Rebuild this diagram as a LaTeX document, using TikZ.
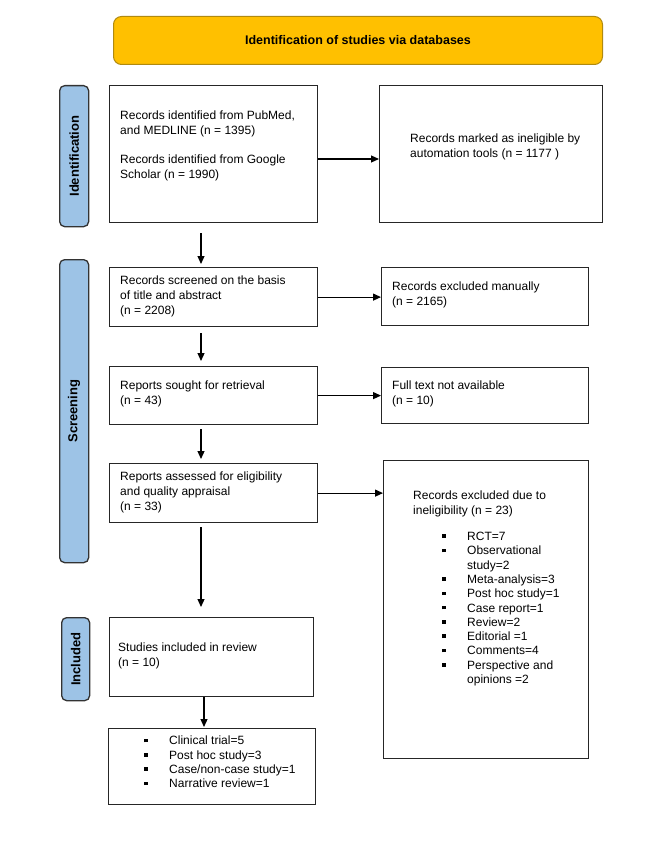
\documentclass[tikz,border=0pt]{standalone}
\usepackage{fontspec}
\setmainfont{Liberation Sans}
\usetikzlibrary{arrows.meta}
\definecolor{gold}{HTML}{FFC000}
\definecolor{goldb}{HTML}{B08A10}
\definecolor{sideblue}{HTML}{9DC3E6}
\newcommand\bsq{\rule[2.6pt]{3.6pt}{3.6pt}}
\newcommand\bitem[1]{\makebox[25pt][l]{\bsq}#1}
\newcommand\bcont[1]{\hspace*{25pt}#1}
\begin{document}
\begin{tikzpicture}[x=1pt,y=-1pt,
 box/.style={draw=black!85, line width=1.2pt, anchor=north west, inner sep=0},
 side/.style={draw=black!80, fill=sideblue, rounded corners=5pt, line width=1.3pt, anchor=north west, inner sep=0},
 sidetxt/.style={rotate=90, font=\bfseries\fontsize{13}{15}\selectfont, inner sep=0},
 txt/.style={anchor=north west, inner sep=0, align=left, font=\fontsize{12}{14.6}\selectfont, execute at begin node={\rule{0pt}{10pt}}},
 lst/.style={anchor=north west, inner sep=0, align=left, font=\fontsize{12}{14.3}\selectfont, execute at begin node={\rule{0pt}{10pt}}},
 arr/.style={-{Triangle[length=8pt,width=7pt]}, line width=1.2pt}]
\useasboundingbox (0,0) rectangle (661,850);
\fill[white] (0,0) rectangle (661,850);
% banner
\node[draw=goldb, fill=gold, rounded corners=8pt, line width=1pt, minimum width=489pt, minimum height=48pt, anchor=north west, inner sep=0, font=\bfseries\fontsize{12.5}{15}\selectfont] (banner) at (113,16) {Identification of studies via databases};
% side labels
\node[side, minimum width=29pt, minimum height=141pt] (idl) at (59,85) {};
\node[sidetxt] (idlt) at (idl.center) {Identification};
\node[side, minimum width=29pt, minimum height=303pt] (scl) at (59,259) {};
\node[sidetxt] (sclt) at (scl.center) {Screening};
\node[side, minimum width=28pt, minimum height=83pt] (incl) at (61,617) {};
\node[sidetxt] (inclt) at (incl.center) {Included};
% boxes
\node[box, minimum width=208pt, minimum height=137pt] (b1) at (109,85) {};
\node[box, minimum width=223pt, minimum height=137pt] (rb1) at (379,85) {};
\node[box, minimum width=208pt, minimum height=59pt] (b2) at (109,267) {};
\node[box, minimum width=207pt, minimum height=58pt] (rb2) at (381,267) {};
\node[box, minimum width=208pt, minimum height=58pt] (b3) at (109,366) {};
\node[box, minimum width=207pt, minimum height=56pt] (rb3) at (381,367) {};
\node[box, minimum width=208pt, minimum height=59pt] (b4) at (109,463) {};
\node[box, minimum width=205pt, minimum height=298pt] (rb4) at (383,460) {};
\node[box, minimum width=204pt, minimum height=79pt] (b5) at (109,617) {};
\node[box, minimum width=207pt, minimum height=76pt] (b6) at (108,728) {};
% texts
\node[txt] (t1a) at (120,111) {Records identified from PubMed,\\and MEDLINE (n = 1395)};
\node[txt] (t1b) at (120,155) {Records identified from Google\\Scholar (n = 1990)};
\node[txt] (tr1) at (410,134) {Records marked as ineligible by\\automation tools (n = 1177 )};
\node[txt] (t2) at (120,276) {Records screened on the basis\\of title and abstract\\(n = 2208)};
\node[txt] (tr2) at (392,282) {Records excluded manually\\(n = 2165)};
\node[txt] (t3) at (120,381) {Reports sought for retrieval\\(n = 43)};
\node[txt] (tr3) at (392,381) {Full text not available\\(n = 10)};
\node[txt] (t4) at (120,472) {Reports assessed for eligibility\\and quality appraisal\\(n = 33)};
\node[txt] (tr4) at (413,491) {Records excluded due to\\ineligibility (n = 23)};
\node[lst] (l4) at (442,532) {\bitem{RCT=7}\\\bitem{Observational}\\\bcont{study=2}\\\bitem{Meta-analysis=3}\\\bitem{Post hoc study=1}\\\bitem{Case report=1}\\\bitem{Review=2}\\\bitem{Editorial =1}\\\bitem{Comments=4}\\\bitem{Perspective and}\\\bcont{opinions =2}};
\node[txt] (t5) at (118,643) {Studies included in review\\(n = 10)};
\node[lst] (l6) at (144,736) {\bitem{Clinical trial=5}\\\bitem{Post hoc study=3}\\\bitem{Case/non-case study=1}\\\bitem{Narrative review=1}};
% connectors
\coordinate (ax) at (201,0);
\coordinate (ax2) at (204,0);
\coordinate (y1) at (0,159);
\draw[arr] (b1.east |- y1) -- (rb1.west |- y1);
\draw[arr] (b2.east) -- (rb2.west |- b2.east);
\draw[arr] (b3.east) -- (rb3.west |- b3.east);
\draw[arr] (b4.east) -- (rb4.west |- b4.east);
\draw[arr, shorten <=10pt, shorten >=3pt] (b1.south -| ax) -- (b2.north -| ax);
\draw[arr, shorten <=6pt, shorten >=5pt] (b2.south -| ax) -- (b3.north -| ax);
\draw[arr, shorten <=4pt, shorten >=4pt] (b3.south -| ax) -- (b4.north -| ax);
\draw[arr, shorten <=4pt, shorten >=10pt] (b4.south -| ax) -- (b5.north -| ax);
\draw[arr, shorten >=1pt] (b5.south -| ax2) -- (b6.north -| ax2);
\end{tikzpicture}
\end{document}
